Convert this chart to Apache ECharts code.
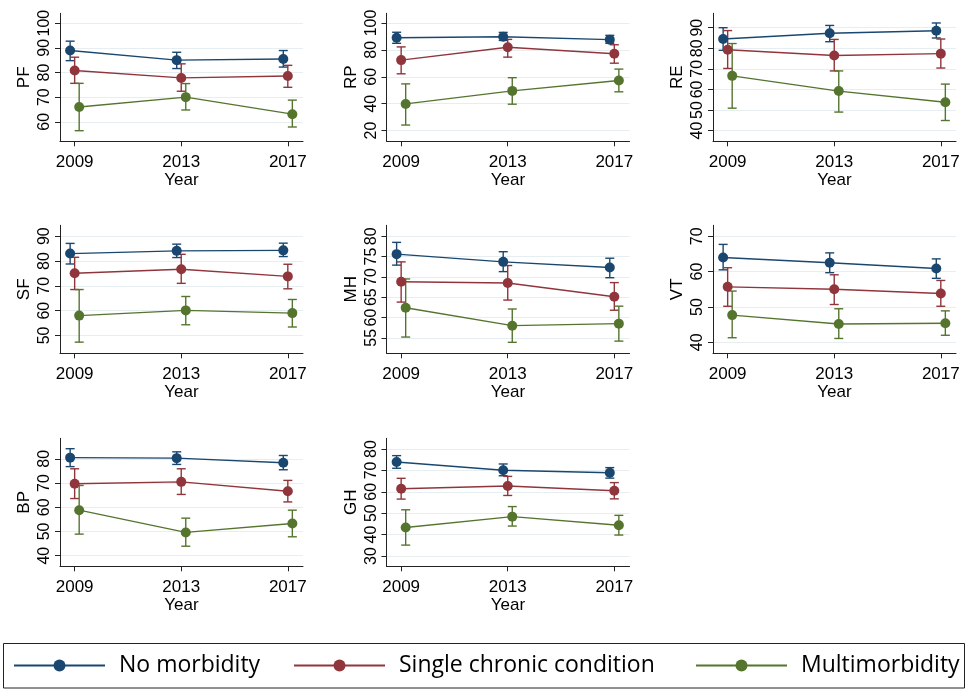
<!DOCTYPE html>
<html><head><meta charset="utf-8">
<script src="https://cdn.jsdelivr.net/npm/echarts@6/dist/echarts.min.js"></script>
<style>html,body{margin:0;padding:0;background:#fff}#c{width:970px;height:689px}</style>
</head><body><div id="c"></div><script>
const years = [2009, 2013, 2017];
const groups = ['No morbidity', 'Single chronic condition', 'Multimorbidity'];
// each entry: [mean, lower CI, upper CI] for 2009, 2013, 2017
const PF_no = [[88.9, 84.8, 92.7], [85.0, 81.6, 88.2], [85.5, 82.2, 88.9]];
const PF_single = [[80.8, 75.6, 86.2], [77.8, 72.4, 83.5], [78.6, 74.0, 82.9]];
const PF_multi = [[66.0, 56.4, 75.6], [70.0, 64.8, 75.5], [63.1, 57.9, 68.8]];
const PF_ticks = [60, 70, 80, 90, 100];

const RP_no = [[89.0, 84.9, 93.1], [89.8, 87.0, 93.0], [87.6, 84.9, 90.8]];
const RP_single = [[72.4, 62.2, 82.2], [81.9, 74.6, 87.8], [77.1, 70.1, 83.8]];
const RP_multi = [[39.8, 24.1, 54.7], [49.5, 39.6, 59.3], [57.2, 48.8, 65.7]];
const RP_ticks = [20, 40, 60, 80, 100];

const RE_no = [[84.5, 79.0, 90.0], [87.3, 83.2, 91.1], [88.5, 85.0, 92.3]];
const RE_single = [[79.3, 70.2, 88.6], [76.5, 69.0, 84.3], [77.4, 70.4, 84.5]];
const RE_multi = [[66.6, 50.9, 82.3], [59.2, 49.0, 69.0], [53.8, 44.9, 62.6]];
const RE_ticks = [40, 50, 60, 70, 80, 90];

const SF_no = [[83.0, 78.8, 87.1], [84.1, 81.4, 86.8], [84.3, 81.8, 87.2]];
const SF_single = [[75.1, 68.5, 81.5], [76.7, 71.0, 82.7], [73.8, 68.8, 78.7]];
const SF_multi = [[58.0, 47.3, 68.5], [60.1, 54.3, 65.7], [59.0, 53.4, 64.5]];
const SF_ticks = [50, 60, 70, 80, 90];

const MH_no = [[75.6, 72.9, 78.5], [73.7, 71.3, 76.2], [72.3, 69.8, 74.6]];
const MH_single = [[68.8, 63.8, 73.7], [68.5, 64.3, 72.8], [65.1, 61.8, 68.6]];
const MH_multi = [[62.4, 55.2, 69.5], [58.0, 53.9, 62.1], [58.5, 54.2, 62.8]];
const MH_ticks = [55, 60, 65, 70, 75, 80];

const VT_no = [[64.0, 60.5, 67.7], [62.5, 59.7, 65.3], [60.9, 58.1, 63.6]];
const VT_single = [[55.7, 50.2, 61.1], [55.0, 50.7, 59.1], [53.8, 50.2, 57.5]];
const VT_multi = [[47.7, 41.3, 54.5], [45.2, 41.1, 49.5], [45.4, 42.0, 48.9]];
const VT_ticks = [40, 50, 60, 70];

const BP_no = [[80.5, 76.8, 84.2], [80.3, 77.7, 82.9], [78.4, 75.5, 81.4]];
const BP_single = [[69.7, 63.6, 75.9], [70.5, 65.3, 75.9], [66.6, 62.2, 71.1]];
const BP_multi = [[58.8, 48.9, 69.0], [49.6, 43.9, 55.5], [53.3, 47.8, 58.8]];
const BP_ticks = [40, 50, 60, 70, 80];

const GH_no = [[73.9, 71.0, 76.9], [70.1, 67.5, 73.0], [68.9, 66.4, 71.3]];
const GH_single = [[61.4, 56.6, 66.3], [62.7, 58.3, 67.2], [60.5, 56.7, 64.3]];
const GH_multi = [[43.3, 35.1, 51.6], [48.4, 44.0, 53.1], [44.4, 39.8, 49.0]];
const GH_ticks = [30, 40, 50, 60, 70, 80];

const panels = [
  { name: 'PF', sets: [PF_no, PF_single, PF_multi], ticks: PF_ticks, min: 52.1, max: 104 },
  { name: 'RP', sets: [RP_no, RP_single, RP_multi], ticks: RP_ticks, min: 12, max: 107.2 },
  { name: 'RE', sets: [RE_no, RE_single, RE_multi], ticks: RE_ticks, min: 34.8, max: 97 },
  { name: 'SF', sets: [SF_no, SF_single, SF_multi], ticks: SF_ticks, min: 42.8, max: 94.4 },
  { name: 'MH', sets: [MH_no, MH_single, MH_multi], ticks: MH_ticks, min: 51.2, max: 82.7 },
  { name: 'VT', sets: [VT_no, VT_single, VT_multi], ticks: VT_ticks, min: 36.9, max: 73.1 },
  { name: 'BP', sets: [BP_no, BP_single, BP_multi], ticks: BP_ticks, min: 35.6, max: 88.5 },
  { name: 'GH', sets: [GH_no, GH_single, GH_multi], ticks: GH_ticks, min: 25.2, max: 85 }
];

const COLORS = ['#1a476f', '#90353b', '#55752f'];
const DODGE = [-0.17, 0, 0.17];
const COL_LEFT = [60, 386.5, 713];
const ROW_TOP = [13.3, 225.3, 438.3];
const GW = 243, GH = 128;
const LEGEND_LEFT = [13, 293, 695];
const AX = '#222';
const FONT = '"Liberation Sans", Arial, sans-serif';

const grid = [], xAxis = [], yAxis = [], series = [];
panels.forEach((p, i) => {
  const col = i % 3, row = Math.floor(i / 3);
  grid.push({ left: COL_LEFT[col], top: ROW_TOP[row], width: GW, height: GH, containLabel: false });
  xAxis.push({
    type: 'value', gridIndex: i, min: 2008.45, max: 2017.57,
    name: 'Year', nameLocation: 'middle', nameGap: 27,
    nameTextStyle: { fontFamily: FONT, fontSize: 17, color: '#000' },
    axisLine: { show: true, onZero: false, lineStyle: { color: AX, width: 1 } },
    axisTick: { show: true, length: 5, customValues: years, lineStyle: { color: AX } },
    axisLabel: { customValues: years, formatter: v => String(v), margin: 13, fontFamily: FONT, fontSize: 17, color: '#000' },
    splitLine: { show: false }
  });
  yAxis.push({
    type: 'value', gridIndex: i, min: p.min, max: p.max,
    name: p.name, nameLocation: 'middle', nameGap: 27, nameRotate: 90,
    nameTextStyle: { fontFamily: FONT, fontSize: 17, color: '#000' },
    axisLine: { show: true, lineStyle: { color: AX, width: 1 } },
    axisTick: { show: true, length: 5, customValues: p.ticks, lineStyle: { color: AX } },
    axisLabel: { customValues: p.ticks, rotate: 90, margin: 7, showMinLabel: true, showMaxLabel: true,
      formatter: v => String(v), fontFamily: FONT, fontSize: 16, color: '#000', hideOverlap: false },
    splitLine: { show: true, lineStyle: { color: '#e6eef1', width: 1 } }
  });
  p.sets.forEach((set, g) => {
    const c = COLORS[g];
    const pts = set.map((d, k) => [years[k] + DODGE[g], d[0], d[1], d[2]]);
    series.push({
      type: 'custom', name: 'ci' + g, xAxisIndex: i, yAxisIndex: i, clip: false, z: 2,
      data: pts, encode: { x: 0, y: [1, 2, 3] }, silent: true,
      renderItem: (params, api) => {
        const x = api.value(0);
        const a = api.coord([x, api.value(2)]);
        const b = api.coord([x, api.value(3)]);
        const w = 4.5, st = { stroke: c, lineWidth: 1.4 };
        return { type: 'group', children: [
          { type: 'line', shape: { x1: a[0], y1: a[1], x2: b[0], y2: b[1] }, style: st },
          { type: 'line', shape: { x1: a[0] - w, y1: a[1], x2: a[0] + w, y2: a[1] }, style: st },
          { type: 'line', shape: { x1: b[0] - w, y1: b[1], x2: b[0] + w, y2: b[1] }, style: st }
        ] };
      }
    });
    series.push({
      type: 'line', name: groups[g], xAxisIndex: i, yAxisIndex: i, z: 3,
      data: pts.map(d => [d[0], d[1]]),
      symbol: 'circle', symbolSize: 10, showSymbol: true,
      lineStyle: { color: c, width: 1.4 }, itemStyle: { color: c },
      emphasis: { disabled: true }, animation: false
    });
  });
});

const legend = groups.map((gname, g) => ({
  data: [gname], left: LEGEND_LEFT[g], top: 654, padding: 0,
  itemWidth: 91, itemHeight: 15, selectedMode: false,
  lineStyle: { width: 2 },
  textStyle: { fontFamily: '"Open Sans", sans-serif', fontSize: 23, color: '#000', padding: [0, 0, 0, 9] }
}));

const chart = echarts.init(document.getElementById('c'), null, { renderer: 'canvas' });
chart.setOption({
  animation: false,
  backgroundColor: '#fff',
  grid, xAxis, yAxis, series, legend,
  graphic: [{
    type: 'rect', silent: true,
    shape: { x: 3.5, y: 643.5, width: 961, height: 44.5 },
    style: { fill: 'none', stroke: '#222', lineWidth: 1 }
  }]
});
</script></body></html>
